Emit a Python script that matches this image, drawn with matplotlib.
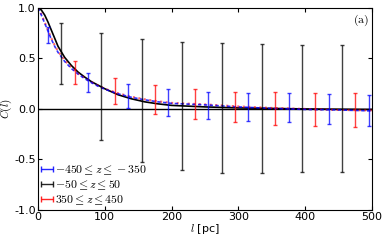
import numpy as np
import matplotlib
matplotlib.use("Agg")
import matplotlib.pyplot as plt

plt.rcParams["mathtext.fontset"] = "cm"
plt.rcParams["axes.unicode_minus"] = False
plt.rcParams["xtick.direction"] = "in"
plt.rcParams["ytick.direction"] = "in"
plt.rcParams["xtick.top"] = True
plt.rcParams["ytick.right"] = True

# smooth correlation curves
l_curve = [0, 5, 10, 15, 20, 25, 30, 40, 50, 60, 70, 80, 90, 100, 120, 140,
           160, 180, 200, 250, 300, 350, 400, 450, 500]
c_mid = [1.0, 0.98, 0.93, 0.86, 0.78, 0.70, 0.62, 0.51, 0.43, 0.365, 0.315, 0.27,
         0.235, 0.20, 0.14, 0.10, 0.07, 0.05, 0.035, 0.02, 0.01, 0.005, 0.0,
         -0.003, -0.005]
c_low = [1.0, 0.93, 0.85, 0.77, 0.69, 0.62, 0.56, 0.47, 0.40, 0.345, 0.30, 0.26,
         0.225, 0.195, 0.15, 0.115, 0.09, 0.07, 0.055, 0.04, 0.02, 0.005, -0.005,
         -0.01, -0.02]
c_high = [1.0, 0.94, 0.86, 0.78, 0.70, 0.63, 0.57, 0.48, 0.41, 0.35, 0.305, 0.265,
          0.23, 0.20, 0.155, 0.12, 0.095, 0.075, 0.06, 0.045, 0.025, 0.01, 0.0,
          -0.01, -0.015]

# binned points with error bars
l_low = [15, 75, 135, 195, 255, 315, 375, 435, 495]
y_low = [0.73, 0.265, 0.13, 0.065, 0.035, 0.02, 0.015, 0.0, -0.015]
e_low = [0.08, 0.095, 0.12, 0.135, 0.135, 0.14, 0.145, 0.15, 0.155]

l_mid = [35, 95, 155, 215, 275, 335, 395, 455]
y_mid = [0.55, 0.22, 0.08, 0.03, 0.01, 0.005, 0.005, 0.005]
e_mid = [0.30, 0.53, 0.61, 0.63, 0.64, 0.635, 0.625, 0.625]

l_high = [55, 115, 175, 235, 295, 355, 415, 475]
y_high = [0.36, 0.18, 0.095, 0.05, 0.02, 0.005, -0.005, -0.01]
e_high = [0.11, 0.13, 0.145, 0.15, 0.15, 0.165, 0.165, 0.17]

labels = [r"$-450 \leq z \leq -350$", r"$-50 \leq z \leq 50$", r"$350 \leq z \leq 450$"]
colors = ["b", "k", "r"]

fig = plt.figure(figsize=(3.9, 2.41), dpi=100)
ax = fig.add_axes([0.0974, 0.129, 0.8566, 0.838])

ax.axhline(0, color="k", lw=1.0)
ax.plot(l_curve, c_mid, "k-", lw=1.2)
ax.plot(l_curve, c_high, color="r", ls=":", lw=1.5, alpha=0.6)
ax.plot(l_curve, c_low, color="b", ls="--", lw=1.2, dashes=(2, 1.5), alpha=0.8)

for lx, ly, le, c in [(l_low, y_low, e_low, "b"), (l_mid, y_mid, e_mid, "k"),
                      (l_high, y_high, e_high, "r")]:
    ax.errorbar(lx, ly, yerr=le, fmt="none", ecolor=c, elinewidth=1.0,
                capsize=1.3, alpha=0.75)

# legend proxies drawn with horizontal bars, like the original
handles = []
for c, lab in zip(colors, labels):
    h = ax.errorbar([np.nan], [np.nan], xerr=[1], fmt="none", ecolor=c,
                    elinewidth=1.0, capsize=2.0, alpha=0.85, label=lab)
    handles.append(h)

ax.set_xlim(0, 500)
ax.set_ylim(-1.0, 1.0)
ax.set_xticks([0, 100, 200, 300, 400, 500])
ax.set_yticks([-1.0, -0.5, 0.0, 0.5, 1.0])
ax.tick_params(labelsize=8, length=3, width=0.8, pad=1.5)
ax.set_xlabel(r"$l$ [pc]", fontsize=8, labelpad=0)
ax.set_ylabel(r"$C(l)$", fontsize=8, labelpad=0)
ax.text(0.99, 0.94, r"$\mathrm{(a)}$", transform=ax.transAxes, fontsize=8.5,
        ha="right", va="center")

ax.legend(handles=handles, loc="lower left", bbox_to_anchor=(0.012, 0.0),
          frameon=False, fontsize=8.5, handlelength=0.4, handletextpad=0.45,
          labelspacing=0.12, borderaxespad=0.1, borderpad=0.15)

fig.savefig("out.png", dpi=100)
